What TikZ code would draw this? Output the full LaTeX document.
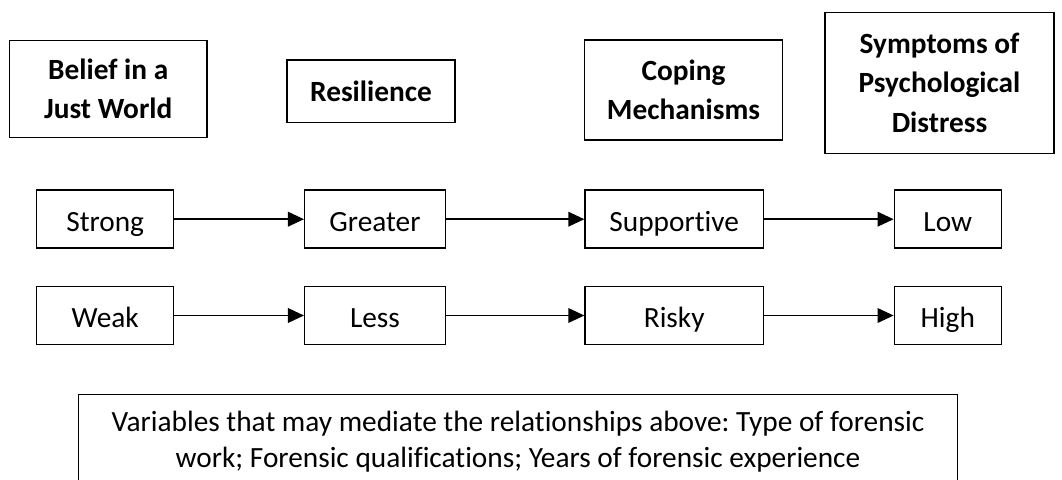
\documentclass[tikz,border=0pt]{standalone}
\usepackage{fontspec}
\setmainfont[Ligatures=NoCommon]{Carlito}
\usetikzlibrary{arrows.meta}
\frenchspacing
\begin{document}
\begin{tikzpicture}[x=0.75pt,y=-0.75pt,
  box/.style={draw,line width=1.1pt,inner sep=0pt,align=center},
  head/.style={box,font=\bfseries\fontsize{22}{29.5}\selectfont},
  val/.style={box,font=\fontsize{22}{27}\selectfont,minimum height=58*0.75pt,text height=20.5pt,text depth=2.3pt},
  link/.style={line width=1.1pt,-{Triangle[length=12pt,width=11pt]}}]
\useasboundingbox (0,0) rectangle (1062,479);
\clip (0,0) rectangle (1062,479);
\node[head,minimum width=197.5*0.75pt,minimum height=96.7*0.75pt] (bjw) at (108.25,89) {Belief in a\\Just World};
\node[head,minimum width=168*0.75pt,minimum height=62.7*0.75pt] (res) at (371,91.3) {Resilience};
\node[head,minimum width=198.4*0.75pt,minimum height=100*0.75pt] (cop) at (683.5,90) {Coping\\Mechanisms};
\node[head,minimum width=229*0.75pt,minimum height=141*0.75pt] (sym) at (939.5,82.8) {Symptoms of\\Psychological\\Distress};
\node[val,minimum width=137*0.75pt] (strong) at (105.2,219.2) {Strong};
\node[val,minimum width=140.6*0.75pt] (greater) at (375,219.2) {Greater};
\node[val,minimum width=178.3*0.75pt] (supp) at (674.2,219.2) {Supportive};
\node[val,minimum width=107*0.75pt] (low) at (947.8,219.2) {Low};
\node[val,minimum width=137*0.75pt] (weak) at (105.2,315.5) {Weak};
\node[val,minimum width=140.6*0.75pt] (less) at (375,315.5) {Less};
\node[val,minimum width=178.3*0.75pt] (risky) at (674.2,315.5) {Risky};
\node[val,minimum width=107*0.75pt] (high) at (947.8,315.5) {High};
\draw[link] (strong) -- (greater);
\draw[link] (greater) -- (supp);
\draw[link] (supp) -- (low);
\draw[link] (weak) -- (less);
\draw[link] (less) -- (risky);
\draw[link] (risky) -- (high);
\node[box,font=\fontsize{22}{27}\selectfont,minimum width=879.4*0.75pt,minimum height=95.4*0.75pt] (med) at (518,442) {Variables that may mediate the relationships above: Type of forensic\\work; Forensic qualifications; Years of forensic experience};
\end{tikzpicture}
\end{document}
